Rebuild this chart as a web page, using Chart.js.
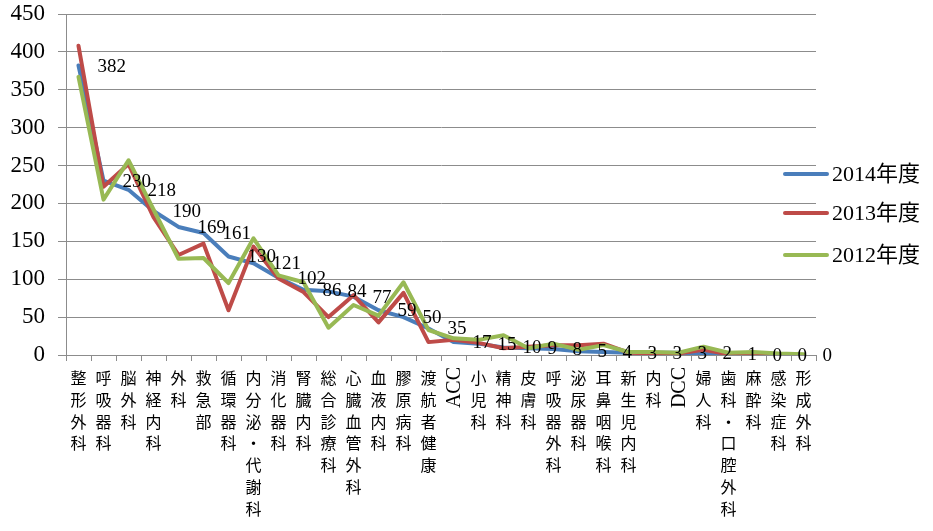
<!DOCTYPE html>
<html>
<head>
<meta charset="utf-8">
<script src="https://cdn.jsdelivr.net/npm/chart.js@4/dist/chart.umd.min.js"></script>
<style>
  html, body { margin: 0; padding: 0; background: #fff; }
  #wrap { width: 933px; height: 531px; }
</style>
</head>
<body>
<div id="wrap"><canvas id="c" width="933" height="531"></canvas></div>
<script>
// 診療科別の件数（年度別）
const categories = [
  '整形外科', '呼吸器科', '脳外科', '神経内科', '外科', '救急部', '循環器科',
  '内分泌・代謝科', '消化器科', '腎臓内科', '総合診療科', '心臓血管外科', '血液内科',
  '膠原病科', '渡航者健康', 'ACC', '小児科', '精神科', '皮膚科', '呼吸器外科',
  '泌尿器科', '耳鼻咽喉科', '新生児内科', '内科', 'DCC', '婦人科', '歯科・口腔外科',
  '麻酔科', '感染症科', '形成外科'
];
const values2014 = [382, 230, 218, 190, 169, 161, 130, 121, 102, 86, 84, 77, 59, 50, 35,
  17, 15, 10, 9, 8, 5, 4, 3, 3, 3, 2, 1, 0, 0, 0];
const values2013 = [408, 222, 252, 182, 132, 147, 59, 143, 101, 83, 50, 79, 43, 82, 17,
  20, 16, 9, 11, 13, 13, 15, 3, 2, 2, 7, 1, 1, 1, 0];
const values2012 = [367, 205, 257, 192, 127, 128, 95, 154, 105, 96, 36, 66, 52, 96, 33,
  22, 20, 26, 9, 15, 7, 13, 4, 4, 3, 11, 3, 4, 2, 1];
const seriesNames = ['2014年度', '2013年度', '2012年度'];
const seriesColors = ['#4a7ebb', '#be4b48', '#98b954'];
const yMin = 0, yMax = 450, yStep = 50;

const GRID = '#8c8c8c';
const NUM_FONT = '"Liberation Serif", "DejaVu Serif", serif';
const JP_FONT = '"Noto Sans CJK JP", "Noto Sans", sans-serif';

// 縦書きのカテゴリラベル（英字は回転）
const verticalLabels = {
  id: 'verticalLabels',
  afterDraw(chart) {
    const xs = chart.scales.x;
    const ctx = chart.ctx;
    const top = xs.top + 15;
    const step = 21.8;
    ctx.save();
    ctx.fillStyle = '#000';
    ctx.font = '16px ' + JP_FONT;
    categories.forEach((label, i) => {
      const x = xs.getPixelForValue(i);
      if (/^[A-Za-z]+$/.test(label)) {
        ctx.save();
        ctx.translate(x, top - 3);
        ctx.rotate(-Math.PI / 2);
        ctx.font = '20px ' + NUM_FONT;
        ctx.textAlign = 'right';
        ctx.textBaseline = 'middle';
        ctx.fillText(label, 0, 1);
        ctx.restore();
      } else {
        ctx.textAlign = 'center';
        ctx.textBaseline = 'middle';
        Array.from(label).forEach((ch, k) => {
          ctx.fillText(ch, x, top + 8 + k * step);
        });
      }
    });
    ctx.restore();
  }
};

// 2014年度の値ラベル
const valueLabels = {
  id: 'valueLabels',
  afterDatasetsDraw(chart) {
    const meta = chart.getDatasetMeta(0);
    const ctx = chart.ctx;
    ctx.save();
    ctx.fillStyle = '#000';
    ctx.font = '19px ' + NUM_FONT;
    ctx.textAlign = 'left';
    ctx.textBaseline = 'middle';
    meta.data.forEach((pt, i) => {
      ctx.fillText(String(values2014[i]), pt.x + 19, pt.y + 1);
    });
    ctx.restore();
  }
};

// 凡例（右側）
const sideLegend = {
  id: 'sideLegend',
  afterDraw(chart) {
    const ctx = chart.ctx;
    const ys = [174, 213, 255];
    ctx.save();
    chart.data.datasets.forEach((ds, i) => {
      const y = ys[i];
      ctx.strokeStyle = ds.borderColor;
      ctx.lineWidth = 4;
      ctx.lineCap = 'round';
      ctx.beginPath();
      ctx.moveTo(785, y);
      ctx.lineTo(827, y);
      ctx.stroke();
      ctx.fillStyle = '#000';
      ctx.font = '22px ' + NUM_FONT + ', ' + JP_FONT;
      ctx.textAlign = 'left';
      ctx.textBaseline = 'middle';
      ctx.fillText(ds.label, 832, y + 1);
    });
    ctx.restore();
  }
};

const makeDataset = (i, data, order) => ({
  label: seriesNames[i],
  data: data,
  borderColor: seriesColors[i],
  backgroundColor: seriesColors[i],
  borderWidth: 4,
  borderJoinStyle: 'round',
  borderCapStyle: 'round',
  pointRadius: 0,
  pointHoverRadius: 0,
  tension: 0,
  fill: false,
  order: order
});

new Chart(document.getElementById('c'), {
  type: 'line',
  data: {
    labels: categories,
    datasets: [
      makeDataset(0, values2014, 2),
      makeDataset(1, values2013, 1),
      makeDataset(2, values2012, 0)
    ]
  },
  options: {
    responsive: false,
    animation: false,
    devicePixelRatio: 1,
    layout: { padding: { top: 14, right: 117, left: 0, bottom: 0 } },
    plugins: {
      legend: { display: false },
      tooltip: { enabled: false }
    },
    scales: {
      x: {
        type: 'category',
        offset: true,
        grid: {
          display: true,
          offset: true,
          drawOnChartArea: false,
          drawTicks: true,
          tickLength: 6,
          color: GRID,
          lineWidth: 1
        },
        border: { display: true, color: GRID, width: 1 },
        ticks: { display: false },
        afterFit(scale) {
          scale.height = 176;
          scale.paddingLeft = 0;
          scale.paddingRight = 0;
        }
      },
      y: {
        min: yMin,
        max: yMax,
        ticks: {
          stepSize: yStep,
          color: '#000',
          padding: 13,
          font: { family: NUM_FONT, size: 23 }
        },
        grid: {
          color: GRID,
          lineWidth: 1,
          drawTicks: true,
          tickLength: 8
        },
        border: { display: true, color: GRID, width: 1 },
        afterFit(scale) {
          scale.width = 66;
          scale.paddingTop = 0;
          scale.paddingBottom = 0;
        }
      }
    }
  },
  plugins: [valueLabels, verticalLabels, sideLegend]
});
</script>
</body>
</html>
